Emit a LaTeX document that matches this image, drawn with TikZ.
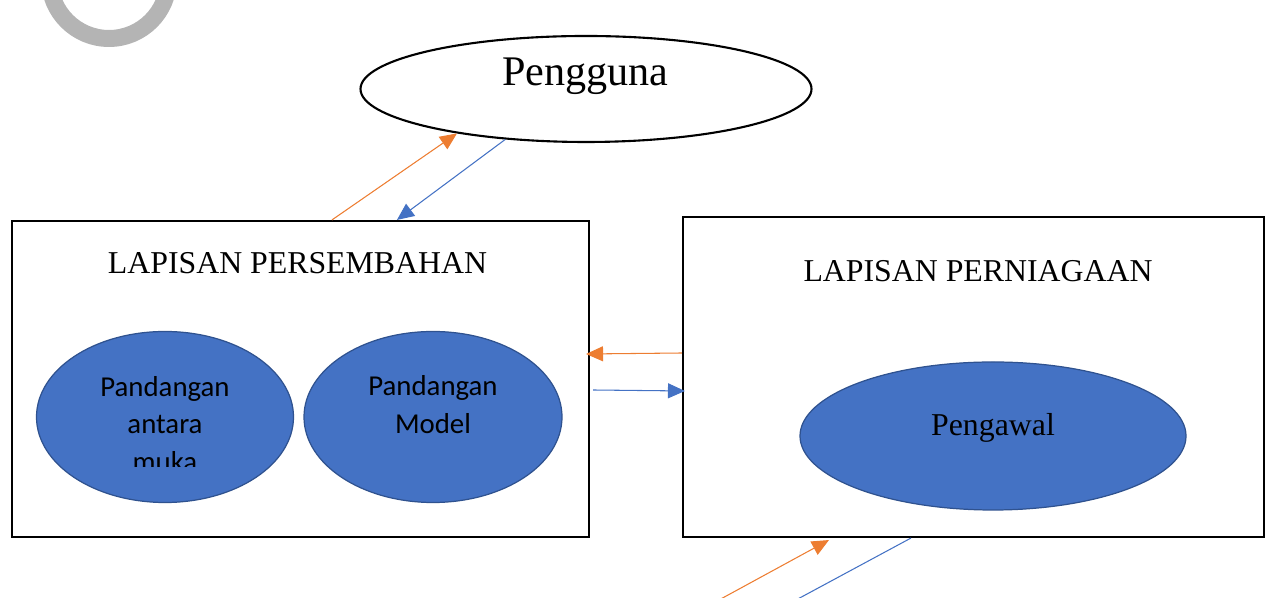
\documentclass[tikz,border=0pt]{standalone}
\usepackage{fontspec}
\setmainfont{Liberation Serif}
\newfontfamily\calibri{Carlito}
\usetikzlibrary{shapes.geometric,arrows.meta}
\definecolor{lineorange}{HTML}{ED7D31}
\definecolor{lineblue}{HTML}{4472C4}
\definecolor{edgeblue}{HTML}{2F528F}
\definecolor{ringgrey}{RGB}{180,180,180}
\begin{document}
\begin{tikzpicture}[
  layer/.style={draw,line width=1.2pt,inner sep=0},
  part/.style={ellipse,draw=edgeblue,line width=0.7pt,fill=lineblue,inner sep=0},
  req/.style={lineorange,line width=0.6pt,-{Triangle[length=0.34cm,width=0.30cm]}},
  resp/.style={lineblue,line width=0.6pt,-{Triangle[length=0.34cm,width=0.30cm]}},
  heading/.style={font=\fontsize{18.1}{22}\selectfont},
  viewtext/.style={font=\calibri\fontsize{16.4}{21.5}\selectfont,align=center}
]
\useasboundingbox (0,0) rectangle (25.32,11.96);
\draw[ringgrey,line width=0.34cm] (2.18,12.38) circle [radius=1.19cm];
% pengguna
\node[ellipse,draw,line width=1.2pt,minimum width=9.02cm,minimum height=2.12cm] (pengguna) at (11.72,10.18) {};
\node[font=\fontsize{24}{28}\selectfont] (tekspengguna) at (11.71,10.43) {Pengguna};
% lapisan
\node[layer,minimum width=11.54cm,minimum height=6.32cm] (persembahan) at (6.01,4.38) {};
\node[layer,minimum width=11.62cm,minimum height=6.40cm] (perniagaan) at (19.47,4.42) {};
\node[heading] (judulkiri) at (5.95,6.70) {LAPISAN PERSEMBAHAN};
\node[heading] (judulkanan) at (19.56,6.54) {LAPISAN PERNIAGAAN};
% komponen
\node[part,minimum width=5.14cm,minimum height=3.42cm] (antaramuka) at (3.30,3.62) {};
\node[part,minimum width=5.16cm,minimum height=3.42cm] (model) at (8.66,3.62) {};
\node[part,minimum width=7.72cm,minimum height=2.96cm] (pengawal) at (19.86,3.24) {};
\begin{scope}
\clip (0.8,2.62) rectangle (5.8,5.2);
\node[viewtext] (teksantara) at (3.30,3.48) {Pandangan\\antara\\muka};
\end{scope}
\node[viewtext] (teksmodel) at (8.66,3.87) {Pandangan\\Model};
\node[heading] (tekspengawal) at (19.86,3.41) {Pengawal};
% aliran
\draw[req] ([xshift=6.42cm]persembahan.north west) -- (pengguna.199);
\draw[resp] (pengguna.212) -- ([xshift=7.72cm]persembahan.north west);
\draw[req] ([yshift=0.48cm]perniagaan.west) -- ([yshift=0.50cm,xshift=-0.08cm]persembahan.east);
\draw[resp] ([yshift=-0.22cm,xshift=0.06cm]persembahan.east) -- ([yshift=-0.28cm,xshift=0.06cm]perniagaan.west);
\coordinate (masuk) at (14.36,-0.05);
\coordinate (keluar) at (15.90,-0.05);
\draw[req] (masuk) -- ([xshift=2.94cm,yshift=-0.04cm]perniagaan.south west);
\draw[lineblue,line width=0.6pt] ([xshift=4.58cm]perniagaan.south west) -- (keluar);
\end{tikzpicture}
\end{document}
